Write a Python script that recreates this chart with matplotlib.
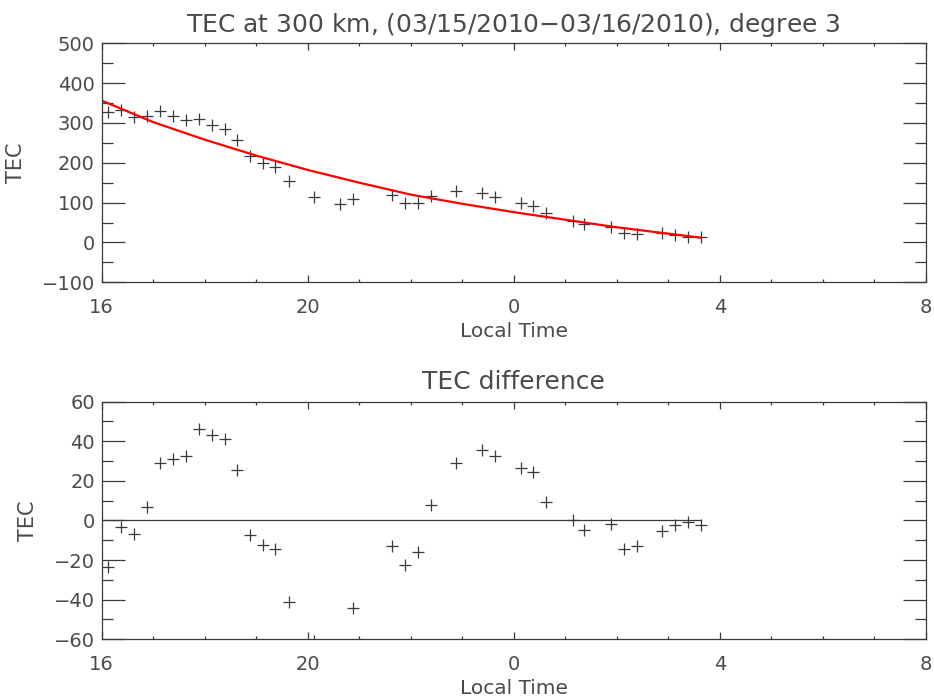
import numpy as np
import matplotlib
matplotlib.use('Agg')
from matplotlib import pyplot as plt
from matplotlib.ticker import MultipleLocator, FixedLocator

# local time in hours after 0 LT on 03/15 (values past 24 are next day)
hours = [16.13, 16.37, 16.63, 16.88, 17.13, 17.38, 17.63, 17.88, 18.14, 18.39,
         18.63, 18.88, 19.13, 19.37, 19.64, 20.12, 20.63, 20.88, 21.63, 21.88,
         22.13, 22.39, 22.88, 23.38, 23.63, 24.13, 24.38, 24.63, 25.15, 25.37,
         25.88, 26.13, 26.39, 26.87, 27.13, 27.38, 27.63]
tec = [327, 333, 316, 317, 329, 318, 308, 310, 296, 284,
       257, 218, 199, 189, 153, 115, 96, 108, 118, 100,
       100, 117, 129, 125, 115, 100, 92, 73, 54, 46,
       38, 23, 20, 23, 18, 14, 13]
tec_diff = [-23.4, -3.2, -6.6, 6.9, 29.1, 31.3, 32.4, 46.2, 43.2, 41.3,
            25.4, -7.4, -12.6, -14.3, -41.3, -61.0, -63.0, -44.0, -12.9, -22.5,
            -15.8, 7.6, 29.1, 35.5, 32.6, 26.6, 24.5, 9.4, 0.5, -4.9,
            -2.0, -14.5, -12.9, -5.4, -2.4, -0.7, -2.4]

# degree 3 fit curve
fit_hours = [16, 17, 18, 19, 20, 21, 22, 23, 24, 25, 26, 27, 27.63]
fit_tec = [356, 302, 258, 218, 182, 150, 120, 97, 76, 57, 38, 22, 12]

xticks = [16, 20, 24, 28, 32]
xticklabels = ['16', '20', '0', '4', '8']

TXT = '#4a4a4a'
LN = '#3a3a3a'

plt.rcParams['font.family'] = 'DejaVu Sans'
plt.rcParams['text.color'] = TXT
plt.rcParams['axes.labelcolor'] = TXT
plt.rcParams['xtick.color'] = LN
plt.rcParams['ytick.color'] = LN
plt.rcParams['xtick.labelcolor'] = TXT
plt.rcParams['ytick.labelcolor'] = TXT

fig = plt.figure(figsize=(9.34, 6.98), dpi=100)
ax1 = fig.add_axes([0.1089, 0.5956, 0.8825, 0.3424])
ax2 = fig.add_axes([0.1089, 0.0841, 0.8825, 0.3404])


def style(ax, ymaj, ymin):
    ax.set_xlim(16, 32)
    ax.xaxis.set_major_locator(FixedLocator(xticks))
    ax.set_xticklabels(xticklabels)
    ax.xaxis.set_minor_locator(MultipleLocator(1))
    ax.yaxis.set_major_locator(MultipleLocator(ymaj))
    ax.yaxis.set_minor_locator(MultipleLocator(ymin))
    ax.tick_params(which='both', direction='in', top=True, right=True,
                   labelsize=14, width=0.9)
    ax.tick_params(axis='x', which='major', length=4.8, pad=11)
    ax.tick_params(axis='x', which='minor', length=2.4)
    ax.tick_params(axis='y', which='major', length=16.5, pad=5)
    ax.tick_params(axis='y', which='minor', length=8.2)
    for s in ax.spines.values():
        s.set_color(LN)
        s.set_linewidth(0.9)
    ax.set_xlabel('Local Time', fontsize=14.5, labelpad=4)
    ax.set_ylabel('TEC', fontsize=15, labelpad=11)


ax1.plot(hours, tec, linestyle='none', marker='+', markersize=8,
         markeredgewidth=0.9, color=LN)
ax1.plot(fit_hours, fit_tec, color='red', linewidth=1.6)
ax1.set_ylim(-100, 500)
style(ax1, 100, 50)
ax1.set_title('TEC at 300 km, (03/15/2010$-$03/16/2010), degree 3',
              fontsize=18, pad=8, color=TXT)

ax2.plot(hours, tec_diff, linestyle='none', marker='+', markersize=8,
         markeredgewidth=0.9, color=LN)
ax2.plot([fit_hours[0], fit_hours[-1]], [0, 0], color=LN, linewidth=0.9)
ax2.set_ylim(-60, 60)
style(ax2, 20, 10)
ax2.set_title('TEC difference', fontsize=18, pad=9, color=TXT)

fig.savefig('out.png', dpi=100)
